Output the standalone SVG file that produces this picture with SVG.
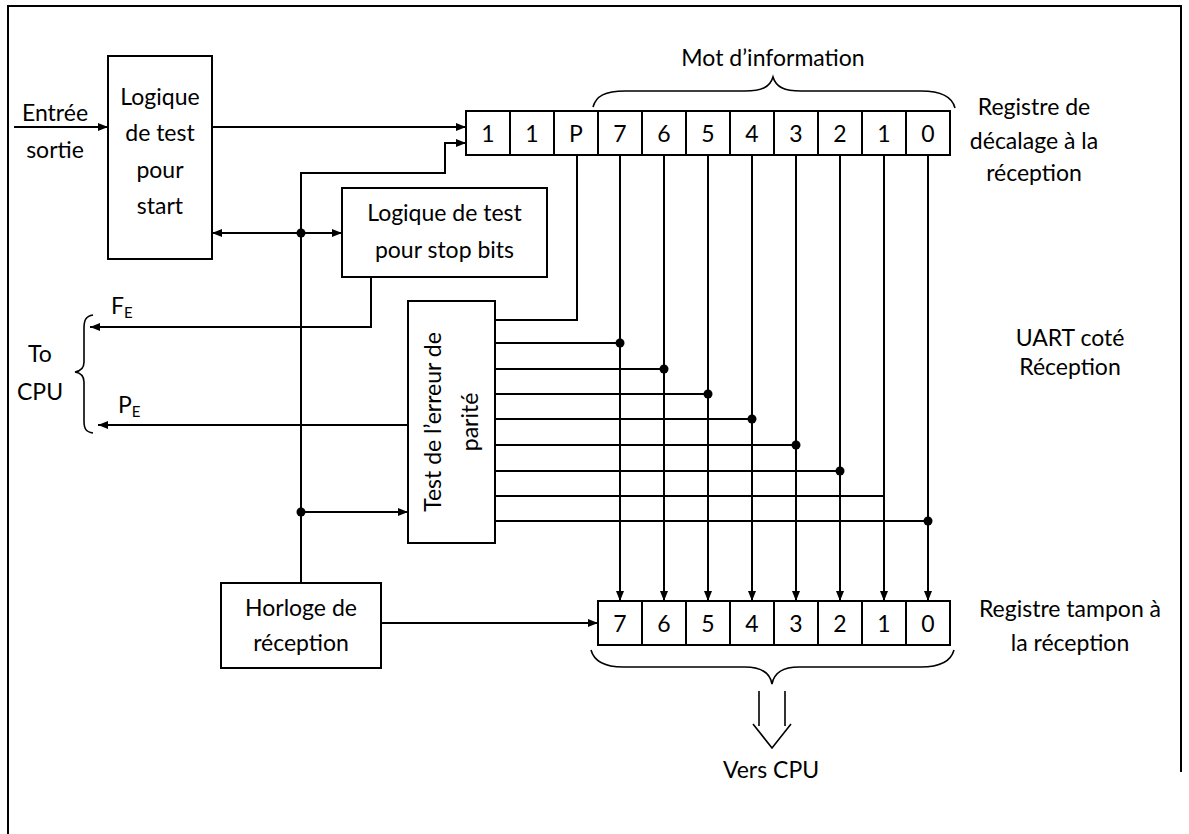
<svg xmlns="http://www.w3.org/2000/svg" width="1189" height="834" viewBox="0 0 1189 834">
  <defs>
    <marker id="arr" markerUnits="userSpaceOnUse" markerWidth="11" markerHeight="9" refX="10" refY="4" orient="auto-start-reverse">
      <path d="M0,0 L10,4 L0,8 z" fill="#000"/>
    </marker>
    <style>
      .ln { stroke: #000; stroke-width: 2; fill: none; }
      .thin { stroke: #000; stroke-width: 1.6; fill: none; }
      .box { fill: #fff; stroke: #000; stroke-width: 2; }
      .dot { fill: #000; }
      text { font-family: Lato, "Open Sans", "Liberation Sans", sans-serif; font-size: 23px; fill: #000; }
      .c { text-anchor: middle; }
      .dig { font-size: 26px; }
      .sub { font-size: 15px; }
    </style>
  </defs>

  <rect width="1189" height="834" fill="#fff"/>
  <!-- page frame -->
  <path class="ln" d="M8,834 L8,6 L1181,6 L1181,772"/>

  <!-- connectors -->
  <g id="connectors">
    <line class="ln" x1="14" y1="127" x2="108" y2="127" marker-end="url(#arr)"/>
    <line class="ln" x1="212" y1="127" x2="466" y2="127" marker-end="url(#arr)"/>
    <path class="ln" d="M301,583 L301,173 L445,173 L445,143 L466,143" marker-end="url(#arr)"/>
    <line class="ln" x1="212" y1="233" x2="342" y2="233" marker-start="url(#arr)" marker-end="url(#arr)"/>
    <circle class="dot" cx="301" cy="233" r="4.5"/>
    <line class="ln" x1="301" y1="512" x2="408" y2="512" marker-end="url(#arr)"/>
    <circle class="dot" cx="301" cy="512" r="4.5"/>
    <!-- error flags to CPU -->
    <path class="ln" d="M371,277 L371,327 L90,327" marker-end="url(#arr)"/>
    <line class="ln" x1="408" y1="425" x2="98" y2="425" marker-end="url(#arr)"/>
    <!-- parity bit -->
    <path class="ln" d="M577,155 L577,320 L495,320"/>
    <!-- data bits: shift register to buffer register -->
    <g class="ln" marker-end="url(#arr)">
      <line x1="620" y1="155" x2="620" y2="601"/>
      <line x1="664" y1="155" x2="664" y2="601"/>
      <line x1="708" y1="155" x2="708" y2="601"/>
      <line x1="752" y1="155" x2="752" y2="601"/>
      <line x1="796" y1="155" x2="796" y2="601"/>
      <line x1="840" y1="155" x2="840" y2="601"/>
      <line x1="884" y1="155" x2="884" y2="601"/>
      <line x1="928" y1="155" x2="928" y2="601"/>
    </g>
    <!-- taps into parity checker -->
    <g class="ln">
      <line x1="495" y1="343" x2="620" y2="343"/>
      <line x1="495" y1="369" x2="664" y2="369"/>
      <line x1="495" y1="394" x2="708" y2="394"/>
      <line x1="495" y1="419" x2="752" y2="419"/>
      <line x1="495" y1="445" x2="796" y2="445"/>
      <line x1="495" y1="471" x2="840" y2="471"/>
      <line x1="495" y1="496" x2="884" y2="496"/>
      <line x1="495" y1="521" x2="928" y2="521"/>
    </g>
    <g class="dot">
      <circle cx="620" cy="343" r="4.5"/>
      <circle cx="664" cy="369" r="4.5"/>
      <circle cx="708" cy="394" r="4.5"/>
      <circle cx="752" cy="419" r="4.5"/>
      <circle cx="796" cy="445" r="4.5"/>
      <circle cx="840" cy="471" r="4.5"/>
      <circle cx="928" cy="521" r="4.5"/>
    </g>
    <line class="ln" x1="381" y1="623" x2="598" y2="623" marker-end="url(#arr)"/>
    <!-- output bus to CPU -->
    <path class="thin" d="M759,691 L759,726 M785,691 L785,726 M753,724 L772,748 L791,724"/>
  </g>

  <!-- braces -->
  <path class="thin" d="M593,107 C596,96 605,91 625,91 L745,91 C762,91 770,87 773,77 C776,87 784,91 801,91 L921,91 C941,91 952,96 955,108"/>
  <path class="thin" d="M591,650 C594,661 603,667 623,667 L745,667 C762,667 770,673 772,684 C774,673 782,667 799,667 L921,667 C941,667 951,661 954,650"/>
  <path class="thin" d="M93,315 C86,316 84,320 84,328 L84,362 C84,368 81,371 75,372 C81,373 84,376 84,382 L84,421 C84,429 86,432 93,433"/>

  <!-- start bit detector -->
  <g id="start-logic">
    <rect class="box" x="108" y="56" width="104" height="203"/>
    <text class="c" x="160" y="105">Logique</text>
    <text class="c" x="160" y="141">de test</text>
    <text class="c" x="160" y="178">pour</text>
    <text class="c" x="160" y="214">start</text>
  </g>

  <!-- stop bit detector -->
  <g id="stop-logic">
    <rect class="box" x="342" y="188" width="205" height="89"/>
    <text class="c" x="444.5" y="221">Logique de test</text>
    <text class="c" x="444.5" y="258">pour stop bits</text>
  </g>

  <!-- parity checker -->
  <g id="parity">
    <rect class="box" x="408" y="301" width="87" height="242"/>
    <text class="c" transform="translate(441,422) rotate(-90)">Test de l’erreur de</text>
    <text class="c" transform="translate(478,422) rotate(-90)">parité</text>
  </g>

  <!-- receive clock -->
  <g id="clock">
    <rect class="box" x="221" y="583" width="160" height="85"/>
    <text class="c" x="301" y="616">Horloge de</text>
    <text class="c" x="301" y="651">réception</text>
  </g>

  <!-- receive shift register -->
  <g id="shift-register">
    <rect class="box" x="466" y="111" width="484" height="44"/>
    <path class="ln" d="M510,111 V155 M554,111 V155 M598,111 V155 M642,111 V155 M686,111 V155 M730,111 V155 M774,111 V155 M818,111 V155 M862,111 V155 M906,111 V155"/>
    <g class="dig">
      <text class="c" x="488" y="142">1</text>
      <text class="c" x="532" y="142">1</text>
      <text class="c" x="576" y="142">P</text>
      <text class="c" x="620" y="142">7</text>
      <text class="c" x="664" y="142">6</text>
      <text class="c" x="708" y="142">5</text>
      <text class="c" x="752" y="142">4</text>
      <text class="c" x="796" y="142">3</text>
      <text class="c" x="840" y="142">2</text>
      <text class="c" x="884" y="142">1</text>
      <text class="c" x="928" y="142">0</text>
    </g>
  </g>

  <!-- receive buffer register -->
  <g id="buffer-register">
    <rect class="box" x="598" y="601" width="352" height="44"/>
    <path class="ln" d="M642,601 V645 M686,601 V645 M730,601 V645 M774,601 V645 M818,601 V645 M862,601 V645 M906,601 V645"/>
    <g class="dig">
      <text class="c" x="620" y="632">7</text>
      <text class="c" x="664" y="632">6</text>
      <text class="c" x="708" y="632">5</text>
      <text class="c" x="752" y="632">4</text>
      <text class="c" x="796" y="632">3</text>
      <text class="c" x="840" y="632">2</text>
      <text class="c" x="884" y="632">1</text>
      <text class="c" x="928" y="632">0</text>
    </g>
  </g>

  <!-- labels -->
  <g id="labels">
    <text class="c" x="55" y="121">Entrée</text>
    <text class="c" x="55" y="158">sortie</text>
    <text x="111" y="314">F<tspan class="sub" dy="4">E</tspan></text>
    <text x="118" y="413">P<tspan class="sub" dy="4">E</tspan></text>
    <text class="c" x="40" y="362">To</text>
    <text class="c" x="40" y="400">CPU</text>
    <text class="c" x="773" y="66">Mot d’information</text>
    <text class="c" x="1034" y="115">Registre de</text>
    <text class="c" x="1034" y="149">décalage à la</text>
    <text class="c" x="1034" y="181">réception</text>
    <text class="c" x="1070" y="346">UART coté</text>
    <text class="c" x="1070" y="375">Réception</text>
    <text class="c" x="1070" y="617">Registre tampon à</text>
    <text class="c" x="1070" y="651">la réception</text>
    <text class="c" x="771" y="778">Vers CPU</text>
  </g>
</svg>
